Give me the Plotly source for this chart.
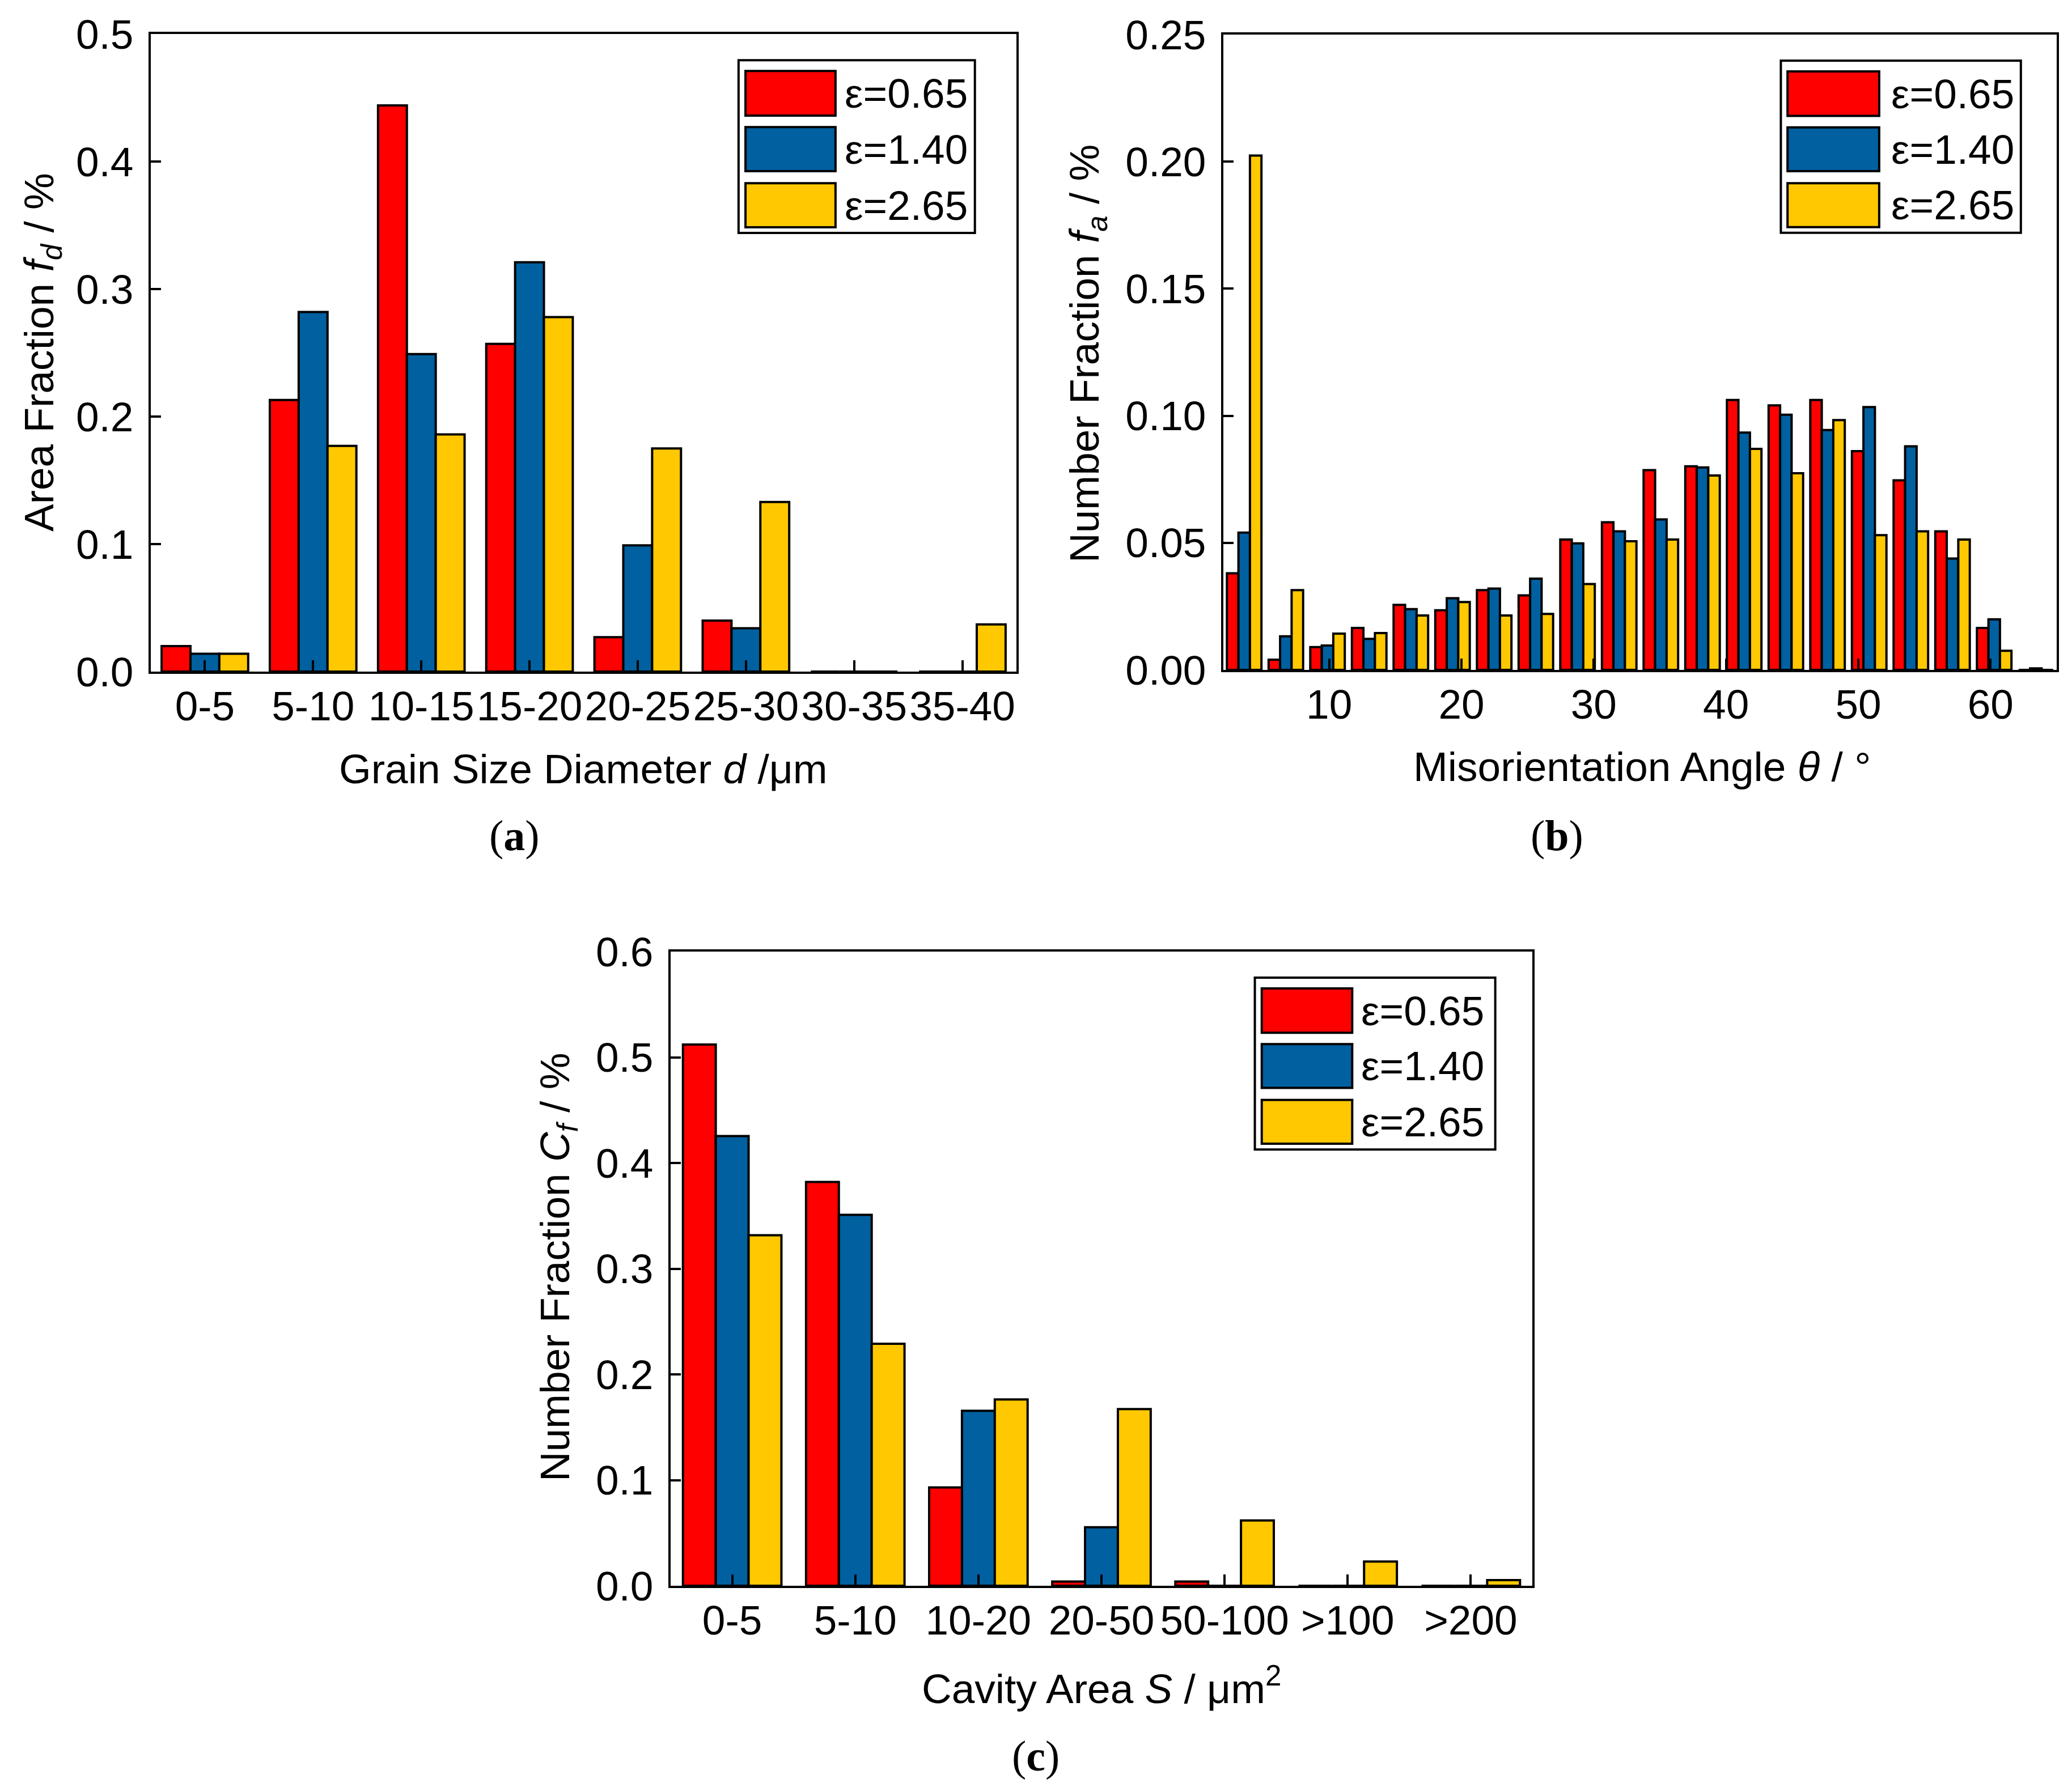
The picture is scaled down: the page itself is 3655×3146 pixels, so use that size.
import plotly.graph_objects as go

W, H = 3655, 3146

series_names = ["ε=0.65", "ε=1.40", "ε=2.65"]
series_colors = ["#FF0000", "#0060A0", "#FFC800"]

# (a) grain size distribution
grain_bins = ["0-5", "5-10", "10-15", "15-20", "20-25", "25-30", "30-35", "35-40"]
grain_e065 = [0.020, 0.213, 0.444, 0.257, 0.027, 0.040, 0.0, 0.0]
grain_e140 = [0.014, 0.282, 0.249, 0.321, 0.099, 0.034, 0.0, 0.0]
grain_e265 = [0.014, 0.177, 0.186, 0.278, 0.175, 0.133, 0.0, 0.037]

# (b) misorientation angle distribution (bin centres, degrees)
angle_centers = [3.575, 6.725, 9.875, 13.025, 16.175, 19.325, 22.475, 25.625, 28.775, 31.925,
                 35.075, 38.225, 41.375, 44.525, 47.675, 50.825, 53.975, 57.125, 60.275, 63.425]
angle_e065 = [0.038, 0.004, 0.009, 0.0165, 0.0256, 0.0235, 0.0314, 0.0293, 0.0513, 0.0581,
              0.0786, 0.0801, 0.1062, 0.1041, 0.1062, 0.0861, 0.0746, 0.0545, 0.0165, 0.0]
angle_e140 = [0.054, 0.0132, 0.0096, 0.0122, 0.0239, 0.0282, 0.032, 0.0359, 0.0498, 0.0545,
              0.0592, 0.0797, 0.0934, 0.1004, 0.0944, 0.1034, 0.088, 0.0438, 0.0199, 0.0006]
angle_e265 = [0.2024, 0.0314, 0.0143, 0.0145, 0.0214, 0.0267, 0.0214, 0.022, 0.0338, 0.0506,
              0.0513, 0.0765, 0.087, 0.0774, 0.0983, 0.053, 0.0545, 0.0513, 0.0075, 0.0]

# (c) cavity area distribution
cavity_bins = ["0-5", "5-10", "10-20", "20-50", "50-100", ">100", ">200"]
cavity_e065 = [0.512, 0.382, 0.093, 0.004, 0.004, 0.0, 0.0]
cavity_e140 = [0.4255, 0.351, 0.1656, 0.0554, 0.0, 0.0, 0.0]
cavity_e265 = [0.3317, 0.229, 0.1763, 0.1672, 0.0618, 0.0229, 0.0053]

FONT = "Liberation Sans"
SERIF = "Liberation Serif"
FS = 73
LW = 4


def px(x):
    return x / W


def py(y):
    return 1 - y / H


fig = go.Figure()

# panel (a)
for name, col, vals in zip(series_names, series_colors, [grain_e065, grain_e140, grain_e265]):
    fig.add_trace(go.Bar(x=grain_bins, y=vals, name=name, marker_color=col,
                         marker_line=dict(color="black", width=LW),
                         xaxis="x", yaxis="y", showlegend=False))

# panel (b)
offsets = [-1.305, -0.435, 0.435]
for name, col, vals, off in zip(series_names, series_colors,
                                [angle_e065, angle_e140, angle_e265], offsets):
    fig.add_trace(go.Bar(x=angle_centers, y=vals, name=name, marker_color=col,
                         marker_line=dict(color="black", width=LW),
                         width=0.87, offset=off,
                         xaxis="x2", yaxis="y2", showlegend=False))

# panel (c)
for name, col, vals in zip(series_names, series_colors, [cavity_e065, cavity_e140, cavity_e265]):
    fig.add_trace(go.Bar(x=cavity_bins, y=vals, name=name, marker_color=col,
                         marker_line=dict(color="black", width=LW),
                         xaxis="x3", yaxis="y3", showlegend=False))

axis_common = dict(showline=True, linecolor="black", linewidth=LW, mirror=True,
                   ticks="inside", tickcolor="black", tickwidth=LW, showgrid=False,
                   zeroline=False, automargin=False,
                   tickfont=dict(family=FONT, size=FS, color="black"))
xstyle = dict(ticklen=20, ticklabelstandoff=-6, **axis_common)
ystyle = dict(ticklen=18, ticklabelstandoff=12, **axis_common)

fig.update_layout(
    width=W, height=H,
    margin=dict(l=0, r=0, t=0, b=0),
    paper_bgcolor="white", plot_bgcolor="white",
    barmode="group", bargap=0.2, bargroupgap=0,
    font=dict(family=FONT, size=FS, color="black"),
    xaxis=dict(domain=[px(258), px(1785)], anchor="y", type="category", **xstyle),
    yaxis=dict(domain=[py(1177), py(52)], anchor="x", range=[0, 0.5], dtick=0.1,
               tickformat=".1f", **ystyle),
    xaxis2=dict(domain=[px(2150), px(3620)], anchor="y2", range=[2, 65],
                tickvals=[10, 20, 30, 40, 50, 60], **xstyle),
    yaxis2=dict(domain=[py(1174), py(53)], anchor="x2", range=[0, 0.25], dtick=0.05,
                tickformat=".2f", **ystyle),
    xaxis3=dict(domain=[px(1175), px(2695)], anchor="y3", type="category", **xstyle),
    yaxis3=dict(domain=[py(2790), py(1671)], anchor="x3", range=[0, 0.6], dtick=0.1,
                tickformat=".1f", **ystyle),
)

annotations = []
shapes = []


def add_text(x, y, text, angle=0, family=FONT, size=FS):
    annotations.append(dict(x=px(x), y=py(y), xref="paper", yref="paper", text=text,
                            showarrow=False, xanchor="center", yanchor="middle",
                            textangle=angle, font=dict(family=family, size=size, color="black")))


# axis titles
add_text(1021, 1348, "Grain Size Diameter <i>d</i> /μm")
add_text(66, 614, "Area Fraction <i>f</i><sub><i>d</i></sub> / %", angle=-90)
add_text(2888, 1345, "Misorientation Angle <i>θ</i> / °")
add_text(1910, 616, "Number Fraction <i>f</i><sub><i>a</i></sub> / %", angle=-90)
add_text(1935, 2966, "Cavity Area <i>S</i> / μm<sup>2</sup>")
add_text(976, 2228, "Number Fraction <i>C</i><sub><i>f</i></sub> / %", angle=-90)

# panel labels
add_text(899, 1466, "(<b>a</b>)", family=SERIF, size=76)
add_text(2738, 1466, "(<b>b</b>)", family=SERIF, size=76)
add_text(1819, 3090, "(<b>c</b>)", family=SERIF, size=76)

# legends drawn inside each panel
rows = [(0.872, 0.942), (0.785, 0.854), (0.697, 0.766)]


def add_legend(ax, box_x, sw_x, text_x):
    xr, yr = ax + " domain", ax.replace("x", "y") + " domain"
    shapes.append(dict(type="rect", xref=xr, yref=yr, x0=box_x[0], x1=box_x[1],
                       y0=0.688, y1=0.959, fillcolor="white",
                       line=dict(color="black", width=LW)))
    for (y0, y1), col, name in zip(rows, series_colors, series_names):
        shapes.append(dict(type="rect", xref=xr, yref=yr, x0=sw_x[0], x1=sw_x[1],
                           y0=y0, y1=y1, fillcolor=col, line=dict(color="black", width=LW)))
        annotations.append(dict(x=text_x, y=(y0 + y1) / 2, xref=xr, yref=yr, text=name,
                                showarrow=False, xanchor="left", yanchor="middle",
                                font=dict(family=FONT, size=FS, color="black")))


add_legend("x", (0.679, 0.952), (0.687, 0.791), 0.800)
add_legend("x2", (0.669, 0.957), (0.677, 0.787), 0.800)
add_legend("x3", (0.678, 0.957), (0.686, 0.791), 0.800)

fig.update_layout(annotations=annotations, shapes=shapes)

fig.write_html("out.html")
